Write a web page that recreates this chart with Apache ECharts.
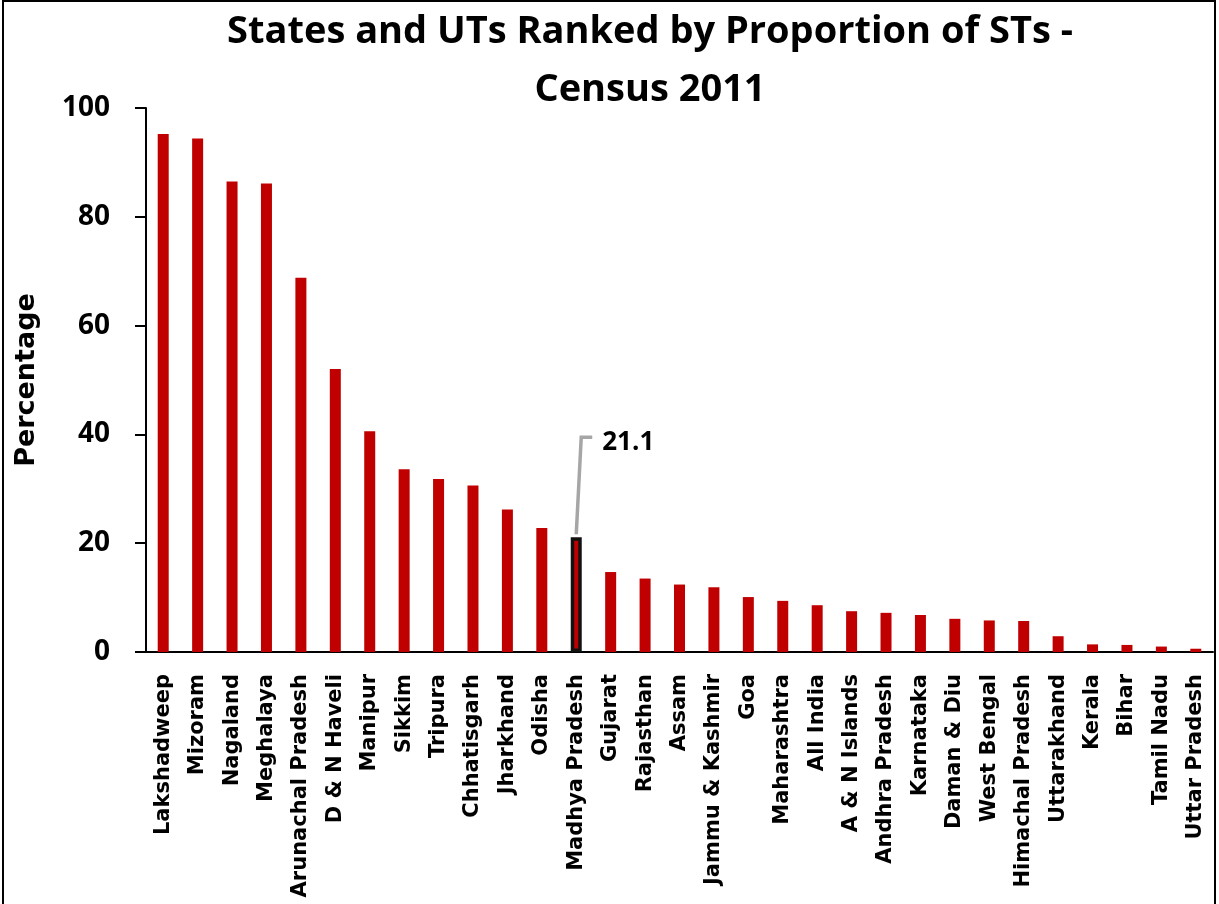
<!DOCTYPE html>
<html>
<head>
<meta charset="utf-8">
<script src="https://cdn.jsdelivr.net/npm/echarts@6/dist/echarts.min.js"></script>
<style>
  html, body { margin: 0; padding: 0; background: #fff; overflow: hidden; }
  #frame { position: absolute; left: 2px; top: 0px; width: 1214px; height: 920px; border: 2px solid #000; box-sizing: border-box; }
  #chart { position: absolute; left: 0; top: 0; width: 1219px; height: 904px; }
</style>
</head>
<body>
<div id="frame"></div>
<div id="chart"></div>
<script>
const categories = [
  "Lakshadweep", "Mizoram", "Nagaland", "Meghalaya", "Arunachal Pradesh",
  "D & N Haveli", "Manipur", "Sikkim", "Tripura", "Chhatisgarh",
  "Jharkhand", "Odisha", "Madhya Pradesh", "Gujarat", "Rajasthan",
  "Assam", "Jammu & Kashmir", "Goa", "Maharashtra", "All India",
  "A & N Islands", "Andhra Pradesh", "Karnataka", "Daman & Diu", "West Bengal",
  "Himachal Pradesh", "Uttarakhand", "Kerala", "Bihar", "Tamil Nadu",
  "Uttar Pradesh"
];
const stPercent = [
  95.2, 94.4, 86.5, 86.1, 68.8,
  52.0, 40.6, 33.6, 31.8, 30.6,
  26.2, 22.8, 21.1, 14.7, 13.5,
  12.4, 11.9, 10.1, 9.4, 8.6,
  7.5, 7.2, 6.8, 6.1, 5.8,
  5.7, 2.9, 1.4, 1.3, 1.0,
  0.6
];
const highlightName = "Madhya Pradesh";
const highlightLabel = "21.1";
const yTicks = { min: 0, max: 100, interval: 20 };
const titleLines = ["States and UTs Ranked by Proportion of STs -", "Census 2011"];

const FONT = "'Open Sans', sans-serif";
const WIDE = "'DejaVu Sans', sans-serif";
const hiIdx = categories.indexOf(highlightName);

const chart = echarts.init(document.getElementById('chart'), null, { renderer: 'canvas' });

const seriesData = stPercent.map((v, i) => i === hiIdx
  ? { value: v, itemStyle: { color: '#C00000', borderColor: '#111', borderWidth: 3.5 } }
  : v);

chart.setOption({
  animation: false,
  backgroundColor: 'transparent',
  title: {
    text: titleLines.join('\n'),
    left: 645, top: -2, textAlign: 'center',
    textStyle: { fontFamily: FONT, fontWeight: 'bold', fontSize: 38, lineHeight: 58, color: '#000' }
  },
  grid: { left: 146, right: 6, top: 108, bottom: 252, containLabel: false },
  xAxis: {
    type: 'category',
    data: categories,
    axisLine: { lineStyle: { color: '#000', width: 2 } },
    axisTick: { show: false },
    axisLabel: {
      interval: 0, rotate: 90, margin: 22,
      fontFamily: WIDE, fontWeight: 'bold', fontSize: 21, color: '#000'
    }
  },
  yAxis: {
    type: 'value',
    min: yTicks.min, max: yTicks.max, interval: yTicks.interval,
    name: 'Percentage',
    nameLocation: 'middle', nameGap: 106, nameRotate: 90,
    nameTextStyle: { fontFamily: WIDE, fontWeight: 'bold', fontSize: 27, color: '#000' },
    axisLine: { show: true, lineStyle: { color: '#000', width: 2 } },
    axisTick: { show: true, inside: false, length: 11, lineStyle: { color: '#000', width: 2 } },
    axisLabel: { margin: 36, fontFamily: FONT, fontWeight: 'bold', fontSize: 28, color: '#000' },
    splitLine: { show: false }
  },
  series: [{
    type: 'bar',
    data: seriesData,
    barWidth: 11,
    itemStyle: { color: '#C00000' }
  }]
});

function drawCallout() {
  const p = chart.convertToPixel({ seriesIndex: 0 }, [hiIdx, stPercent[hiIdx]]);
  const x = p[0], y = p[1];
  chart.setOption({
    graphic: [
      {
        type: 'polyline', z: 100,
        shape: { points: [[x, y - 3], [x + 5, y - 100], [x + 16, y - 100]] },
        style: { stroke: '#A6A6A6', lineWidth: 3.5, fill: null }
      },
      {
        type: 'text', z: 100,
        x: x + 26, y: y - 95,
        style: { text: highlightLabel, fontFamily: FONT, fontWeight: 'bold', fontSize: 26, fill: '#000', verticalAlign: 'middle', align: 'left' }
      }
    ]
  });
}
drawCallout();
</script>
</body>
</html>
